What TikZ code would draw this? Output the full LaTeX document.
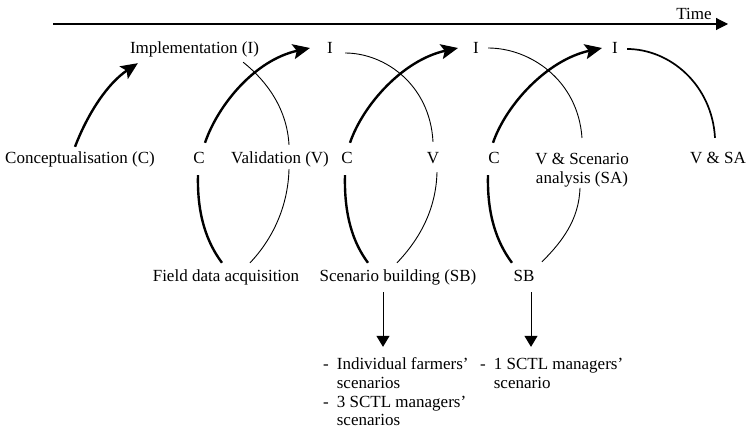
\documentclass[tikz,border=0pt]{standalone}
\usepackage{fontspec}
\setmainfont{Liberation Serif}
\usetikzlibrary{arrows.meta}
\begin{document}
\begin{tikzpicture}[x=1pt,y=-1pt,
  lbl/.style={font=\fontsize{17}{19}\selectfont, inner sep=0pt, text height=12pt, text depth=4pt, anchor=base},
  listnode/.style={font=\fontsize{17}{18.5}\selectfont, inner sep=0pt, anchor=base west},
  bigarc/.style={line width=2.4pt},
  smallarc/.style={line width=0.9pt},
  medarc/.style={line width=1.7pt},
  uparrow/.style={line width=2.4pt, -{Stealth[length=17pt,width=15pt,inset=3.5pt]}},
  darrow/.style={line width=1pt, -{Triangle[length=11pt,width=13pt]}},
  axis/.style={line width=1.1pt, -{Triangle[length=12pt,width=12pt]}},
]
\useasboundingbox (0,0) rectangle (747,430);

% labels
\node[lbl] (time) at (694,20) {Time};
\node[lbl] (impl) at (194.5,54) {Implementation (I)};
\node[lbl] (i1) at (330,54) {I};
\node[lbl] (i2) at (476,54) {I};
\node[lbl] (i3) at (615,54) {I};
\node[lbl] (concept) at (80,164) {Conceptualisation (C)};
\node[lbl] (c1) at (199,164) {C};
\node[lbl] (valid) at (280,164) {Validation (V)};
\node[lbl] (c2) at (347,164) {C};
\node[lbl] (v2) at (433,164) {V};
\node[lbl] (c3) at (494,164) {C};
\node[font=\fontsize{17}{19}\selectfont, inner sep=0pt, align=center, anchor=north] (vsa) at (582,152.5) {V \& Scenario\\analysis (SA)};
\node[lbl] (vsa2) at (718,164) {V \& SA};
\node[lbl] (field) at (226,282) {Field data acquisition};
\node[lbl] (sb1) at (398,282) {Scenario building (SB)};
\node[lbl] (sb2) at (524,282) {SB};
\node[listnode] (list1) at (323,370) {\begin{tabular}[t]{@{}l@{\hspace{8pt}}l@{}}-&Individual farmers'\\&scenarios\\-&3 SCTL managers'\\&scenarios\end{tabular}};
\node[listnode] (list2) at (480,370) {\begin{tabular}[t]{@{}l@{\hspace{8pt}}l@{}}-&1 SCTL managers'\\&scenario\end{tabular}};

% time axis
\coordinate (t0) at (53,24);
\coordinate (t1) at (728,24);
\draw[axis] (t0) -- (t1);

% first arrow
\draw[uparrow] ([shift={(-5,-5)}]concept.north) .. controls +(13,-34) and +(-30,20) .. ([shift={(8,5)}]impl.south west);

% top arcs
\draw[smallarc] ([shift={(-16,4)}]impl.south east) .. controls +(25,20) and +(-2,-35) .. ([shift={(9,-7)}]valid.north);
\draw[uparrow] ([shift={(6,-9)}]c1.north) .. controls +(13,-38) and +(-55,12) .. ([shift={(-17,-2)}]i1.west);
\draw[smallarc] ([shift={(12,3)}]i1.east) .. controls +(40,0) and +(-3,-57) .. ([shift={(0,-10)}]v2.north);
\draw[uparrow] ([shift={(3,-9)}]c2.north) .. controls +(13,-38) and +(-55,12) .. ([shift={(-15,-2)}]i2.west);
\draw[smallarc] ([shift={(9,-2)}]i2.east) .. controls +(42,0) and +(-4,-58) .. ([shift={(0,-14.5)}]vsa.north);
\draw[uparrow] ([shift={(-1,-9)}]c3.north) .. controls +(13,-38) and +(-55,12) .. ([shift={(-10,-2)}]i3.west);
\draw[medarc] ([shift={(9,-1)}]i3.east) .. controls +(43,0) and +(-3,-53) .. ([shift={(-3,-14)}]vsa2.north);

% bottom arcs
\draw[bigarc] ([shift={(-1,7)}]c1.south) .. controls +(-1,40) and +(-15,-20) .. ([shift={(-4,-7)}]field.north);
\draw[smallarc] ([shift={(9,1)}]valid.south) .. controls +(-1,38) and +(22,-23) .. ([shift={(24,-7)}]field.north);
\draw[bigarc] ([shift={(-2,7)}]c2.south) .. controls +(-1,40) and +(-15,-20) .. ([shift={(-30,-7)}]sb1.north);
\draw[smallarc] ([shift={(4,4)}]v2.south) .. controls +(-1,38) and +(22,-23) .. ([shift={(-1,-7)}]sb1.north);
\draw[bigarc] ([shift={(-6,7)}]c3.south) .. controls +(-1,40) and +(-15,-20) .. ([shift={(-12,-7)}]sb2.north);
\draw[smallarc] ([shift={(-2,1)}]vsa.south) .. controls +(-1,32) and +(20,-20) .. ([shift={(18,-8)}]sb2.north);

% down arrows
\coordinate (a1s) at ([shift={(-15,6)}]sb1.south);
\coordinate (a2s) at ([shift={(7,6)}]sb2.south);
\draw[darrow, shorten >=10pt] (a1s) -- (a1s |- list1.north);
\draw[darrow, shorten >=10pt] (a2s) -- (a2s |- list2.north);
\end{tikzpicture}
\end{document}
